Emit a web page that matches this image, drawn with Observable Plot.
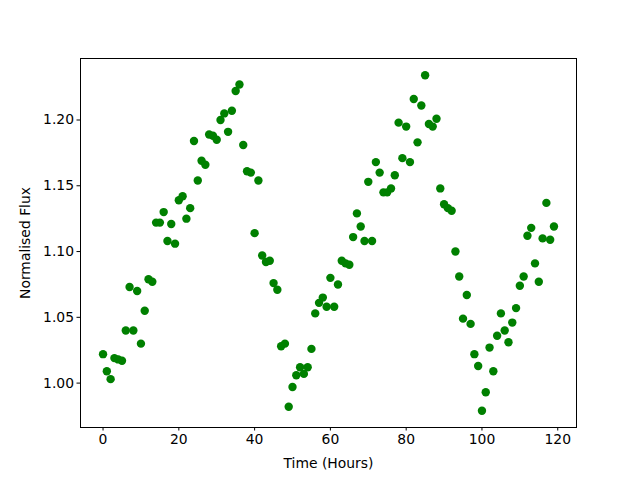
<!DOCTYPE html>
<html>
<head>
<meta charset="utf-8">
<script src="https://cdn.jsdelivr.net/npm/d3@7"></script>
<script src="https://cdn.jsdelivr.net/npm/@observablehq/plot@0.6"></script>
<style>
  html, body { margin: 0; padding: 0; background: #fff; }
  svg { font-family: "DejaVu Sans", sans-serif; }
</style>
</head>
<body>
<div id="chart"></div>
<script>
const hours = d3.range(0, 120);
const flux = [
  1.022, 1.009, 1.003, 1.019, 1.018, 1.017, 1.040, 1.073, 1.040, 1.070,
  1.030, 1.055, 1.079, 1.077, 1.122, 1.122, 1.130, 1.108, 1.121, 1.106,
  1.139, 1.142, 1.125, 1.133, 1.184, 1.154, 1.169, 1.166, 1.189, 1.188,
  1.185, 1.200, 1.205, 1.191, 1.207, 1.222, 1.227, 1.181, 1.161, 1.160,
  1.114, 1.154, 1.097, 1.092, 1.093, 1.076, 1.071, 1.028, 1.030, 0.982,
  0.997, 1.006, 1.012, 1.007, 1.012, 1.026, 1.053, 1.061, 1.065, 1.058,
  1.080, 1.058, 1.075, 1.093, 1.091, 1.090, 1.111, 1.129, 1.119, 1.108,
  1.153, 1.108, 1.168, 1.160, 1.145, 1.145, 1.148, 1.158, 1.198, 1.171,
  1.195, 1.168, 1.216, 1.183, 1.211, 1.234, 1.197, 1.195, 1.201, 1.148,
  1.136, 1.133, 1.131, 1.100, 1.081, 1.049, 1.067, 1.045, 1.022, 1.013,
  0.979, 0.993, 1.027, 1.009, 1.036, 1.053, 1.040, 1.031, 1.046, 1.057,
  1.074, 1.081, 1.112, 1.118, 1.091, 1.077, 1.110, 1.137, 1.109, 1.119
];
const xTicks = [0, 20, 40, 60, 80, 100, 120];
const yTicks = [1.00, 1.05, 1.10, 1.15, 1.20];

const data = hours.map((h, i) => ({hour: h, flux: flux[i]}));

const xMin = d3.min(hours), xMax = d3.max(hours);
const yMin = d3.min(flux), yMax = d3.max(flux);
const xPad = (xMax - xMin) * 0.05, yPad = (yMax - yMin) * 0.05;

const chart = Plot.plot({
  width: 640,
  height: 480,
  marginLeft: 80,
  marginRight: 64,
  marginTop: 58,
  marginBottom: 53,
  style: {fontSize: "13.9px", fontFamily: "DejaVu Sans, sans-serif", background: "#fff", color: "#000"},
  x: {domain: [xMin - xPad, xMax + xPad]},
  y: {domain: [yMin - yPad, yMax + yPad]},
  marks: [
    Plot.frame({stroke: "#000", strokeWidth: 1}),
    Plot.dot(data, {x: "hour", y: "flux", r: 4.2, fill: "#008000", stroke: "none"}),
    Plot.axisX(xTicks, {anchor: "bottom", tickSize: 3.5, tickPadding: 3, label: "Time (Hours)", labelAnchor: "center", labelArrow: "none", labelOffset: 40, stroke: "#000"}),
    Plot.axisY(yTicks, {anchor: "left", tickSize: 3.5, tickPadding: 3, tickFormat: d3.format(".2f"), label: "Normalised Flux", labelAnchor: "center", labelArrow: "none", labelOffset: 60, stroke: "#000"})
  ]
});
document.getElementById("chart").appendChild(chart);
</script>
</body>
</html>
